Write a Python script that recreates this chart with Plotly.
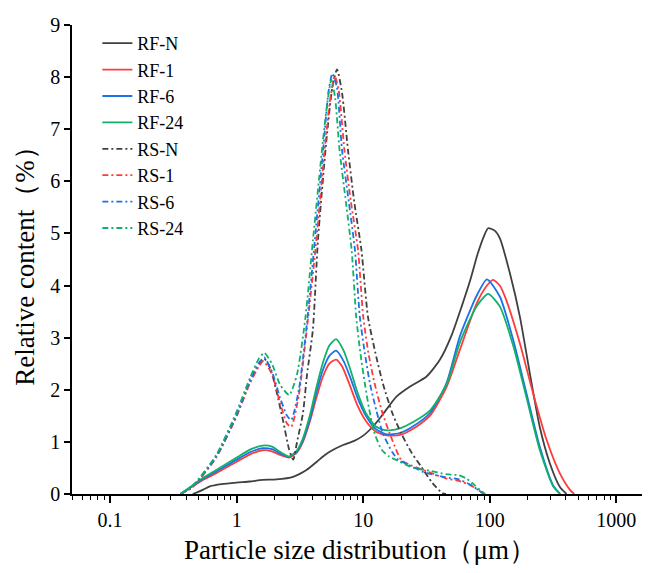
import plotly.graph_objects as go

# ---------------- data (particle size in µm, relative content in %) ----------------
rfn_x = [0.45, 0.54, 0.62, 0.76, 1.0, 1.27, 1.6, 2.06, 2.79, 3.56, 4.3, 4.81, 5.43, 6.92, 8.5, 10, 12, 14, 18.3, 23.3, 31.5, 40.2, 50, 60, 70, 80, 90, 97, 110, 120, 144, 173, 207, 248, 298, 357, 404]
rfn_y = [0, 0.08, 0.15, 0.19, 0.22, 0.24, 0.27, 0.28, 0.33, 0.46, 0.62, 0.72, 0.81, 0.94, 1.02, 1.12, 1.3, 1.5, 1.87, 2.06, 2.25, 2.57, 3.05, 3.6, 4.1, 4.6, 4.95, 5.1, 5.05, 4.91, 4.24, 3.4, 2.32, 1.29, 0.59, 0.14, 0]

rf1_x = [0.36, 0.45, 0.55, 0.69, 1.0, 1.3, 1.6, 1.9, 2.2, 2.6, 3.0, 3.34, 3.8, 4.27, 4.8, 5.4, 6.1, 6.8, 7.8, 9, 10.5, 12.5, 15, 17.2, 20, 24.8, 33.6, 45.5, 57.9, 78.5, 95, 106, 120, 135, 173, 220, 281, 357, 430, 465]
rf1_y = [0, 0.15, 0.28, 0.40, 0.62, 0.77, 0.84, 0.82, 0.75, 0.70, 0.80, 1.0, 1.4, 1.85, 2.25, 2.5, 2.58, 2.45, 2.1, 1.7, 1.4, 1.2, 1.13, 1.12, 1.14, 1.25, 1.5, 2.05, 2.76, 3.65, 4.0, 4.11, 4.0, 3.72, 2.89, 1.93, 1.04, 0.40, 0.08, 0]

rf6_x = [0.36, 0.45, 0.55, 0.69, 1.0, 1.3, 1.6, 1.9, 2.2, 2.6, 3.0, 3.34, 3.8, 4.27, 4.8, 5.4, 6.1, 7.0, 8.0, 9.0, 10.5, 12.5, 15, 17.2, 20, 24.8, 33.6, 45.5, 57.9, 78.5, 95, 120, 153, 195, 248, 316, 360]
rf6_y = [0, 0.16, 0.30, 0.43, 0.66, 0.81, 0.88, 0.86, 0.78, 0.71, 0.82, 1.03, 1.45, 1.95, 2.38, 2.65, 2.75, 2.55, 2.2, 1.85, 1.5, 1.25, 1.15, 1.15, 1.18, 1.3, 1.55, 2.13, 3.02, 3.8, 4.12, 3.79, 2.96, 1.93, 0.91, 0.17, 0]

rf24_x = [0.36, 0.45, 0.55, 0.69, 1.0, 1.3, 1.6, 1.9, 2.2, 2.6, 3.0, 3.34, 3.8, 4.27, 4.8, 5.4, 6.1, 7.0, 8.0, 9.0, 10.5, 12.5, 14, 16.2, 20, 24.8, 33.6, 45.5, 57.9, 78.5, 97, 120, 153, 195, 248, 316, 360]
rf24_y = [0, 0.17, 0.32, 0.46, 0.70, 0.86, 0.93, 0.91, 0.81, 0.72, 0.84, 1.07, 1.52, 2.05, 2.52, 2.85, 2.97, 2.75, 2.35, 1.95, 1.55, 1.3, 1.24, 1.22, 1.27, 1.38, 1.6, 2.1, 2.9, 3.6, 3.84, 3.6, 2.85, 1.85, 0.85, 0.15, 0]

rsn_x = [0.36, 0.45, 0.69, 1.0, 1.27, 1.5, 1.65, 1.85, 2.05, 2.32, 2.6, 2.8, 3.0, 3.34, 3.6, 4.0, 4.39, 5.12, 5.7, 6.21, 6.8, 7.58, 8.5, 9.68, 10.9, 12.5, 14.3, 17, 20, 24, 28.8, 35, 42, 45]
rsn_y = [0, 0.14, 0.72, 1.5, 2.15, 2.5, 2.6, 2.4, 2.0, 1.42, 0.85, 0.66, 1.0, 1.55, 2.3, 3.15, 4.88, 6.79, 7.8, 8.15, 7.7, 6.6, 5.6, 4.68, 3.4, 2.7, 2.12, 1.55, 1.16, 0.8, 0.52, 0.22, 0.02, 0]

rs1_x = [0.36, 0.45, 0.69, 1.0, 1.27, 1.5, 1.62, 1.9, 2.2, 2.5, 2.7, 3.1, 3.6, 4.27, 5.0, 5.5, 5.95, 6.4, 7.1, 8.0, 9.1, 10.0, 11.0, 12.3, 14, 16.2, 20, 24, 33, 45, 57, 70, 83, 90]
rs1_y = [0, 0.14, 0.70, 1.5, 2.12, 2.45, 2.55, 2.3, 1.75, 1.35, 1.29, 1.9, 3.2, 4.88, 6.7, 7.6, 8.02, 7.75, 6.6, 5.6, 4.68, 3.4, 2.7, 2.12, 1.6, 1.16, 0.65, 0.55, 0.42, 0.3, 0.25, 0.17, 0.06, 0]

rs6_x = [0.36, 0.45, 0.69, 1.0, 1.27, 1.5, 1.65, 1.9, 2.2, 2.5, 2.7, 3.1, 3.6, 4.15, 4.9, 5.3, 5.7, 6.2, 6.8, 7.7, 8.6, 9.4, 10.3, 11.3, 12.7, 14.3, 17, 19, 22, 30, 45, 57, 70, 83, 90]
rs6_y = [0, 0.15, 0.72, 1.53, 2.17, 2.52, 2.62, 2.35, 1.85, 1.5, 1.42, 2.0, 3.3, 4.88, 6.79, 7.7, 8.07, 7.8, 6.6, 5.6, 4.68, 3.4, 2.7, 2.12, 1.6, 1.16, 0.8, 0.65, 0.58, 0.42, 0.32, 0.28, 0.18, 0.06, 0]

rs24_x = [0.36, 0.45, 0.69, 1.0, 1.27, 1.5, 1.65, 1.9, 2.2, 2.6, 3.0, 3.5, 4.01, 4.81, 5.2, 5.6, 6.0, 6.5, 7.3, 8.1, 8.8, 9.5, 10.3, 11.2, 12.3, 14, 16, 19.4, 25, 33, 45, 57, 65, 75, 85, 92]
rs24_y = [0, 0.16, 0.75, 1.58, 2.22, 2.6, 2.71, 2.5, 2.1, 1.9, 2.3, 3.4, 4.88, 6.79, 7.5, 7.95, 7.6, 6.6, 5.6, 4.68, 3.4, 2.7, 2.12, 1.6, 1.16, 0.85, 0.72, 0.62, 0.5, 0.45, 0.38, 0.36, 0.3, 0.18, 0.06, 0]

names = ["RF-N", "RF-1", "RF-6", "RF-24", "RS-N", "RS-1", "RS-6", "RS-24"]
xs = [rfn_x, rf1_x, rf6_x, rf24_x, rsn_x, rs1_x, rs6_x, rs24_x]
ys = [rfn_y, rf1_y, rf6_y, rf24_y, rsn_y, rs1_y, rs6_y, rs24_y]
colors = ["#404040", "#ff3b3b", "#1a73e8", "#12b06a", "#404040", "#ff3b3b", "#1a73e8", "#12b06a"]
dashes = ["solid"] * 4 + ["6px,3px,2px,3px"] * 4

x_tickvals = [0.1, 1, 10, 100, 1000]
x_ticktext = ["0.1", "1", "10", "100", "1000"]
y_tickvals = [0, 1, 2, 3, 4, 5, 6, 7, 8, 9]

minor_vals = []
for dec in [0.01, 0.1, 1, 10, 100, 1000]:
    for k in range(2, 10):
        minor_vals.append(round(k * dec, 6))

FONT = "Liberation Serif"

fig = go.Figure()
for n, x, y, c, d in zip(names, xs, ys, colors, dashes):
    fig.add_trace(go.Scatter(x=x, y=y, name=n, mode="lines",
                             line=dict(color=c, width=1.8, dash=d, shape="spline", smoothing=0.6)))

fig.update_layout(
    width=642, height=565,
    margin=dict(l=64, r=2, t=17, b=79),
    paper_bgcolor="white", plot_bgcolor="white",
    font=dict(family=FONT, size=20, color="black"),
    showlegend=True,
    legend=dict(x=0.044, y=1.0, xanchor="left", yanchor="top",
                bgcolor="rgba(0,0,0,0)", font=dict(family=FONT, size=18),
                tracegroupgap=0),
    xaxis=dict(type="log", range=[-1.301, 3.25],
               tickmode="array", tickvals=x_tickvals, ticktext=x_ticktext,
               ticks="outside", ticklen=7, tickwidth=1.5, tickcolor="black",
               minor=dict(tickmode="array", tickvals=minor_vals, ticks="outside",
                          ticklen=4, tickwidth=1.2, tickcolor="black", showgrid=False),
               showline=True, linecolor="black", linewidth=1.5,
               showgrid=False, zeroline=False,
               tickfont=dict(family=FONT, size=20),
               title=dict(text="Particle size distribution（μm）",
                          font=dict(family=FONT, size=27), standoff=10)),
    yaxis=dict(range=[0, 9], tickmode="array", tickvals=y_tickvals,
               ticks="outside", ticklen=6, tickwidth=1.5, tickcolor="black",
               showline=True, linecolor="black", linewidth=1.5,
               showgrid=False, zeroline=False,
               tickfont=dict(family=FONT, size=20),
               title=dict(text="Relative content（%）",
                          font=dict(family=FONT, size=27), standoff=8)),
)

fig.write_html("out.html")
